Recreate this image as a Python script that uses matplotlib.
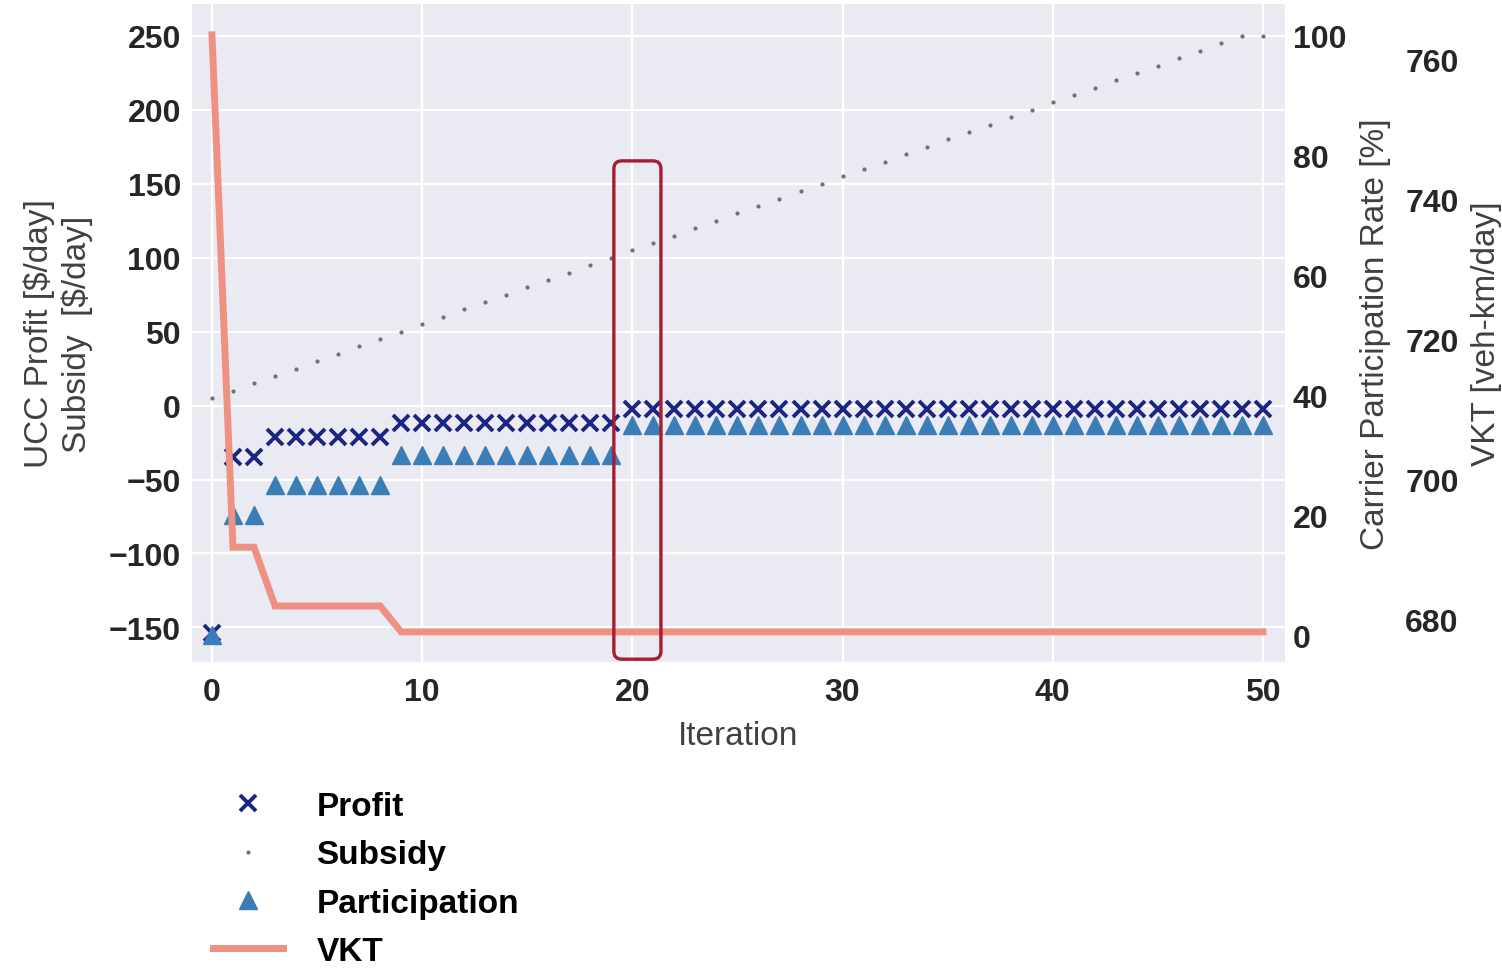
import matplotlib
matplotlib.use("Agg")
import matplotlib.pyplot as plt
from matplotlib.patches import FancyBboxPatch

plt.rcParams['font.family'] = ['Liberation Sans', 'DejaVu Sans']

# ---------------- data ----------------
iterations = list(range(51))

profit = [-154,
          -34.5, -34.5,
          -21.5, -21.5, -21.5, -21.5, -21.5, -21.5,
          -11.5, -11.5, -11.5, -11.5, -11.5, -11.5, -11.5, -11.5, -11.5, -11.5, -11.5,
          -2, -2, -2, -2, -2, -2, -2, -2, -2, -2,
          -2, -2, -2, -2, -2, -2, -2, -2, -2, -2,
          -2, -2, -2, -2, -2, -2, -2, -2, -2, -2, -2]

subsidy = [5, 10, 15, 20, 25, 30, 35, 40, 45, 50,
           55, 60, 65, 70, 75, 80, 85, 90, 95, 100,
           105, 110, 115, 120, 125, 130, 135, 140, 145, 150,
           155, 160, 165, 170, 175, 180, 185, 190, 195, 200,
           205, 210, 215, 220, 225, 230, 235, 240, 245, 250, 250]

participation = [0,
                 20, 20,
                 25, 25, 25, 25, 25, 25,
                 30, 30, 30, 30, 30, 30, 30, 30, 30, 30, 30,
                 35, 35, 35, 35, 35, 35, 35, 35, 35, 35,
                 35, 35, 35, 35, 35, 35, 35, 35, 35, 35,
                 35, 35, 35, 35, 35, 35, 35, 35, 35, 35, 35]

vkt = [763.6,
       690.4, 690.4,
       682.0, 682.0, 682.0, 682.0, 682.0, 682.0,
       678.3, 678.3, 678.3, 678.3, 678.3, 678.3, 678.3, 678.3, 678.3, 678.3, 678.3,
       678.3, 678.3, 678.3, 678.3, 678.3, 678.3, 678.3, 678.3, 678.3, 678.3,
       678.3, 678.3, 678.3, 678.3, 678.3, 678.3, 678.3, 678.3, 678.3, 678.3,
       678.3, 678.3, 678.3, 678.3, 678.3, 678.3, 678.3, 678.3, 678.3, 678.3, 678.3]

x_ticks = [0, 10, 20, 30, 40, 50]
left_ticks = [-150, -100, -50, 0, 50, 100, 150, 200, 250]
part_ticks = [0, 20, 40, 60, 80, 100]
vkt_ticks = [680, 700, 720, 740, 760]

highlight_x = (19.12, 21.36)
highlight_y = (-171.5, 165.5)

# ---------------- figure ----------------
W, H = 1502, 970
fig = plt.figure(figsize=(W / 100, H / 100), dpi=100)
ax1 = fig.add_axes([192 / W, 1 - 663 / H, (1285 - 192) / W, (663 - 5) / H])
ax1.set_facecolor('#EAEAF2')
ax1.grid(True, color='white', linewidth=1.6)
ax1.set_axisbelow(True)
ax2 = ax1.twinx()
ax3 = ax1.twinx()
for a in (ax1, ax2, ax3):
    for s in a.spines.values():
        s.set_visible(False)
ax2.grid(False)
ax3.grid(False)
ax3.spines['right'].set_position(('outward', 81))

tick_col = '#262626'
lab_col = '#404040'

# series
h_profit, = ax1.plot(iterations, profit, linestyle='none', marker='x', markersize=11.5,
                     markeredgewidth=2.8, color='#1B2583', label='Profit')
h_sub, = ax1.plot(iterations, subsidy, linestyle='none', marker='.', markersize=4,
                  color='#707078', label='Subsidy')
h_part, = ax2.plot(iterations, participation, linestyle='none', marker='^', markersize=13,
                   color='#3B7DB6', label='Participation')
h_vkt, = ax3.plot(iterations, vkt, color='#EF9182', linewidth=5, label='VKT',
                  solid_joinstyle='miter')

ax1.set_xlim(-0.95, 51.05)
ax1.set_ylim(-173.4, 271.6)
ax2.set_ylim(-4.5, 105.3)
ax3.set_ylim(674.0, 768.0)

ax1.set_xticks(x_ticks)
ax1.set_yticks(left_ticks)
ax2.set_yticks(part_ticks)
ax3.set_yticks(vkt_ticks)

ax1.tick_params(axis='x', length=0, pad=10.5, labelsize=23, colors=tick_col)
ax1.tick_params(axis='y', length=0, pad=8, labelsize=23, colors=tick_col)
ax2.tick_params(axis='y', length=0, pad=5.5, labelsize=23, colors=tick_col)
ax3.tick_params(axis='y', length=0, pad=5.5, labelsize=23, colors=tick_col)
for a in (ax1, ax2, ax3):
    plt.setp(a.get_yticklabels(), fontweight='bold')
plt.setp(ax1.get_xticklabels(), fontweight='bold')

ax1.set_xlabel('Iteration', fontsize=24, color=lab_col, labelpad=10)
ax1.set_ylabel('UCC Profit [\\$/day]\nSubsidy  [\\$/day]', fontsize=24, color=lab_col,
               labelpad=11, linespacing=1.3)
ax2.set_ylabel('Carrier Participation Rate [%]', fontsize=24, color=lab_col, labelpad=10)
ax3.set_ylabel('VKT [veh-km/day]', fontsize=24, color=lab_col, labelpad=9)

# highlight box around iteration 20
p0 = ax1.transData.transform((0, 0))
p1 = ax1.transData.transform((1, 1))
aspect = (p1[0] - p0[0]) / (p1[1] - p0[1])
box = FancyBboxPatch((highlight_x[0], highlight_y[0]),
                     highlight_x[1] - highlight_x[0], highlight_y[1] - highlight_y[0],
                     boxstyle='round,pad=0,rounding_size=0.38', mutation_aspect=aspect,
                     transform=ax1.transData, fill=False, edgecolor='#A61C32',
                     linewidth=2.4, clip_on=False, zorder=20)
ax3.add_patch(box)
ax3.set_ylim(674.0, 768.0)

# legend
fig.legend([h_profit, h_sub, h_part, h_vkt], ['Profit', 'Subsidy', 'Participation', 'VKT'],
           loc='upper left', bbox_to_anchor=(213 / W, 1 - 792 / H), frameon=False,
           prop={'weight': 'bold', 'size': 24}, handlelength=2.1, handletextpad=1.0,
           labelspacing=0.52, borderpad=0, borderaxespad=0)

fig.savefig('out.png', dpi=100, facecolor='white')
